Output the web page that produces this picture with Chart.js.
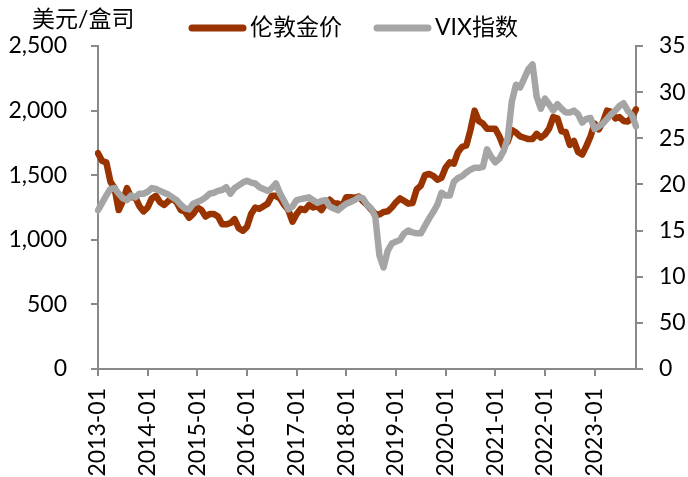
<!DOCTYPE html>
<html>
<head>
<meta charset="utf-8">
<script src="https://cdn.jsdelivr.net/npm/chart.js@4"></script>
<style>
  html, body { margin: 0; padding: 0; background: #fff; }
  #wrap { width: 688px; height: 477px; }
</style>
</head>
<body>
<div id="wrap"><canvas id="chart" width="688" height="477"></canvas></div>
<script>
const unitLabel = "美元/盒司";
const seriesNames = ["伦敦金价", "VIX指数"];
const years = [2013, 2014, 2015, 2016, 2017, 2018, 2019, 2020, 2021, 2022, 2023];
const lastMonth2023 = 11;

// 伦敦金价, monthly, 2013-01 .. 2023-11
const goldPrice = [
    1670, 1610, 1600, 1450, 1400, 1230, 1300, 1400, 1330, 1330, 1260, 1220,
    1250, 1320, 1340, 1290, 1270, 1300, 1320, 1290, 1230, 1220, 1170, 1200,
    1250, 1230, 1180, 1200, 1200, 1180, 1120, 1120, 1130, 1160, 1090, 1070,
    1100, 1200, 1250, 1240, 1260, 1280, 1340, 1340, 1320, 1270, 1230, 1140,
    1200, 1240, 1230, 1270, 1250, 1260, 1230, 1280, 1310, 1280, 1280, 1260,
    1330, 1330, 1325, 1335, 1300, 1270, 1235, 1200, 1195, 1215, 1220, 1250,
    1290, 1320, 1300, 1280, 1285, 1390, 1420, 1500, 1510, 1495, 1465, 1480,
    1560, 1600, 1590, 1680, 1720, 1730, 1850, 2000, 1920, 1900, 1860, 1860,
    1860, 1800, 1720, 1760, 1850, 1830, 1800, 1790, 1780, 1780, 1820, 1790,
    1815, 1860, 1950, 1940, 1840, 1835, 1735, 1765, 1680, 1660, 1725, 1800,
    1900, 1855, 1910, 2000, 1990, 1940, 1950, 1920, 1915, 1950, 2010
];

// VIX指数 (right axis), monthly
const vixIndex = [
    17.2, 18.0, 18.8, 19.5, 19.6, 19.0, 18.5, 18.3, 18.8, 18.6, 19.0, 19.0,
    19.2, 19.6, 19.5, 19.3, 19.1, 18.9, 18.6, 18.3, 17.8, 17.4, 17.3, 17.9,
    18.1, 18.3, 18.6, 19.0, 19.1, 19.3, 19.4, 19.7, 19.0, 19.6, 19.9, 20.2,
    20.4, 20.2, 20.1, 19.7, 19.5, 19.3, 19.6, 20.1, 19.0, 18.2, 17.3, 17.6,
    18.3, 18.4, 18.5, 18.6, 18.3, 18.0, 18.2, 18.3, 17.6, 17.4, 17.2, 17.6,
    17.9, 18.1, 18.3, 18.6, 18.5, 17.8, 17.4, 16.5, 12.3, 11.0, 12.8, 13.6,
    13.8, 14.0, 14.7, 15.0, 14.8, 14.7, 14.7, 15.5, 16.3, 17.0, 17.8, 19.1,
    18.8, 18.8, 20.3, 20.7, 20.9, 21.3, 21.6, 21.8, 21.8, 21.9, 23.8, 23.0,
    22.4, 22.8, 23.6, 25.0, 29.0, 30.8, 30.5, 31.5, 32.5, 33.0, 29.5, 28.2,
    29.3, 28.7, 28.0, 28.7, 28.2, 27.8, 27.8, 28.0, 27.6, 26.7, 27.1, 27.2,
    26.0, 26.3, 26.6, 27.1, 27.6, 28.0, 28.5, 28.8, 28.0, 27.5, 26.3
];

const leftTicks = [0, 500, 1000, 1500, 2000, 2500];
const rightTickLabels = ["0", "50", "10", "15", "20", "25", "30", "35"];

const months = [];
years.forEach(y => {
    const n = y === 2023 ? lastMonth2023 : 12;
    for (let m = 1; m <= n; m++) months.push(y + "-" + String(m).padStart(2, "0"));
});

const FONT = "Lato, 'Noto Sans CJK SC', sans-serif";
const AXIS = "#898989";
const colors = ["#993300", "#A5A5A5"];

// unit label + legend drawn in the top band
const topBand = {
    id: "topBand",
    afterDraw(chart) {
        const ctx = chart.ctx;
        ctx.save();
        ctx.font = "23px " + FONT;
        ctx.fillStyle = "#000";
        ctx.textBaseline = "middle";
        ctx.textAlign = "left";
        ctx.fillText(unitLabel, 32, 20);

        let x = 189;
        const y = 28;
        chart.data.datasets.forEach((ds, i) => {
            ctx.strokeStyle = colors[i];
            ctx.lineWidth = 7;
            ctx.lineCap = "round";
            ctx.beginPath();
            ctx.moveTo(x + 3, y);
            ctx.lineTo(x + 54, y);
            ctx.stroke();
            ctx.fillStyle = "#000";
            ctx.fillText(ds.label, x + 61, y);
            x += 61 + ctx.measureText(ds.label).width + 32;
        });
        ctx.restore();
    }
};

new Chart(document.getElementById("chart"), {
    type: "line",
    data: {
        labels: months,
        datasets: [{
            label: seriesNames[0],
            data: goldPrice,
            yAxisID: "y",
            borderColor: colors[0],
            backgroundColor: colors[0],
            borderWidth: 6.5,
            pointRadius: 0,
            borderJoinStyle: "round",
            borderCapStyle: "round",
            order: 2
        }, {
            label: seriesNames[1],
            data: vixIndex,
            yAxisID: "y1",
            borderColor: colors[1],
            backgroundColor: colors[1],
            borderWidth: 6.5,
            pointRadius: 0,
            borderJoinStyle: "round",
            borderCapStyle: "round",
            order: 1
        }]
    },
    options: {
        responsive: false,
        animation: false,
        layout: { padding: { top: 46, left: 0, right: 0, bottom: 0 } },
        plugins: { legend: { display: false }, tooltip: { enabled: false } },
        scales: {
            x: {
                offset: false,
                border: { color: AXIS, width: 2 },
                grid: { display: true, drawOnChartArea: false, drawTicks: true, tickLength: 7, color: AXIS, lineWidth: 2 },
                ticks: {
                    autoSkip: false,
                    maxRotation: 90,
                    minRotation: 90,
                    padding: 12,
                    color: "#000",
                    font: { family: FONT, size: 23 },
                    callback: function (val, index) {
                        return index % 12 === 0 ? this.getLabelForValue(val) : null;
                    }
                },
                afterFit(scale) { scale.height = 108; }
            },
            y: {
                position: "left",
                min: 0,
                max: 2500,
                border: { color: AXIS, width: 2 },
                grid: { display: true, drawOnChartArea: false, drawTicks: true, tickLength: 7, color: AXIS, lineWidth: 2 },
                afterBuildTicks(scale) { scale.ticks = leftTicks.map(v => ({ value: v })); },
                ticks: {
                    padding: 24,
                    color: "#000",
                    font: { family: FONT, size: 23 },
                    callback: v => v.toLocaleString("en-US")
                },
                afterFit(scale) { scale.width = 98; }
            },
            y1: {
                position: "right",
                min: 0,
                max: 35,
                border: { color: AXIS, width: 2 },
                grid: { display: true, drawOnChartArea: false, drawTicks: true, tickLength: 7, color: AXIS, lineWidth: 2 },
                ticks: {
                    stepSize: 5,
                    padding: 16,
                    color: "#000",
                    font: { family: FONT, size: 23 },
                    callback: (v, i) => rightTickLabels[i]
                },
                afterFit(scale) { scale.width = 52; }
            }
        }
    },
    plugins: [topBand]
});
</script>
</body>
</html>
